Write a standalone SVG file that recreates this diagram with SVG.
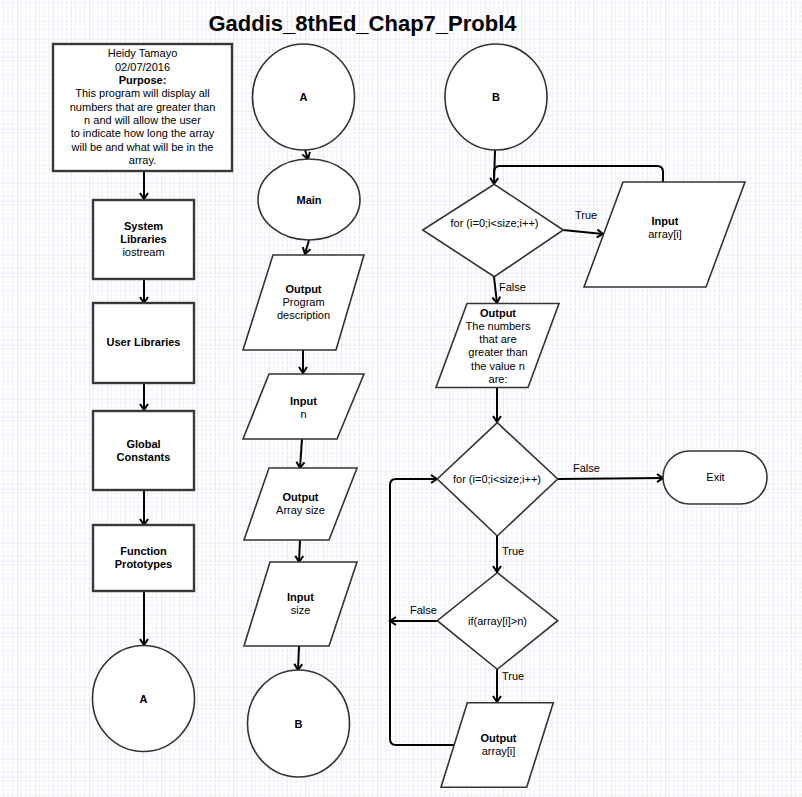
<svg xmlns="http://www.w3.org/2000/svg" width="802" height="797" viewBox="0 0 802 797">
<style>
text{font-family:"Liberation Sans",Arial,sans-serif;font-size:11px;fill:#000;text-anchor:middle}
.b{font-weight:bold}
.l{text-anchor:start}
.title{font-size:22px;font-weight:bold}
.box{fill:#fff;stroke:#383838;stroke-width:2.4}
.shp{fill:#fff;stroke:#333;stroke-width:1.6}
.c{fill:none;stroke:#000;stroke-width:2}
</style>
<defs>
<pattern id="grid" patternUnits="userSpaceOnUse" x="-1" y="2.7" width="18" height="18">
<path d="M4.5,0V18M9,0V18M13.5,0V18M0,4.5H18M0,9H18M0,13.5H18" stroke="#f3f2fb" stroke-width="1" fill="none"/>
<path d="M0,0V18M0,0H18" stroke="#dfdcf2" stroke-width="1.2" fill="none"/>
</pattern>
<marker id="arr" markerUnits="userSpaceOnUse" markerWidth="12" markerHeight="12" refX="7" refY="6" orient="auto" viewBox="0 0 12 12" overflow="visible">
<path d="M1,2 L7,6 L1,10" fill="none" stroke="#000" stroke-width="2"/>
</marker>
</defs>
<rect x="0" y="0" width="802" height="797" fill="#fff"/>
<rect x="0" y="0" width="802" height="797" fill="url(#grid)"/>
<text class="title" x="362.5" y="31">Gaddis_8thEd_Chap7_Probl4</text>

<g id="connectors">
<path class="c" d="M144,171V199" marker-end="url(#arr)"/>
<path class="c" d="M144,279V303" marker-end="url(#arr)"/>
<path class="c" d="M144,383V410" marker-end="url(#arr)"/>
<path class="c" d="M144,490V525" marker-end="url(#arr)"/>
<path class="c" d="M144,591V645" marker-end="url(#arr)"/>
<path class="c" d="M305,150L308,159" marker-end="url(#arr)"/>
<path class="c" d="M309,240L305,254" marker-end="url(#arr)"/>
<path class="c" d="M303,350V373" marker-end="url(#arr)"/>
<path class="c" d="M302,439L300,468" marker-end="url(#arr)"/>
<path class="c" d="M300,540L299,562" marker-end="url(#arr)"/>
<path class="c" d="M299,646L298,670" marker-end="url(#arr)"/>
<path class="c" d="M495,150L494,184" marker-end="url(#arr)"/>
<path class="c" d="M663,182V172Q663,166 657,166H500Q494,166 494,172V178"/>
<path class="c" d="M563,230L603,234" marker-end="url(#arr)"/>
<path class="c" d="M494,277L497,303" marker-end="url(#arr)"/>
<path class="c" d="M497,387V422" marker-end="url(#arr)"/>
<path class="c" d="M558,479L663,478" marker-end="url(#arr)"/>
<path class="c" d="M497,536V572" marker-end="url(#arr)"/>
<path class="c" d="M437,621H390" marker-end="url(#arr)"/>
<path class="c" d="M497,669V702" marker-end="url(#arr)"/>
<path class="c" d="M454,745H396Q390,745 390,739V485Q390,479 396,479H437" marker-end="url(#arr)"/>
<text class="l" x="575" y="219">True</text>
<text class="l" x="499" y="291">False</text>
<text class="l" x="573" y="472">False</text>
<text class="l" x="502" y="555">True</text>
<text class="l" x="410" y="614">False</text>
<text class="l" x="502" y="680">True</text>
</g>

<g id="header">
<rect class="box" x="53" y="44" width="179" height="127"/>
<text x="142.5" y="57">Heidy Tamayo</text>
<text x="142.5" y="70.5">02/07/2016</text>
<text class="b" x="142.5" y="84">Purpose:</text>
<text x="142.5" y="97">This program will display all</text>
<text x="142.5" y="110.5">numbers that are greater than</text>
<text x="142.5" y="124">n and will allow the user</text>
<text x="142.5" y="137">to indicate how long the array</text>
<text x="142.5" y="150.5">will be and what will be in the</text>
<text x="142.5" y="164">array.</text>
</g>
<g id="syslib">
<rect class="box" x="93" y="200" width="101" height="79"/>
<text class="b" x="143.5" y="230">System</text>
<text class="b" x="143.5" y="243">Libraries</text>
<text x="143.5" y="256">iostream</text>
</g>
<g id="userlib">
<rect class="box" x="93" y="303" width="101" height="80"/>
<text class="b" x="143.5" y="346">User Libraries</text>
</g>
<g id="globals">
<rect class="box" x="93" y="411" width="101" height="79"/>
<text class="b" x="143.5" y="448">Global</text>
<text class="b" x="143.5" y="461">Constants</text>
</g>
<g id="protos">
<rect class="box" x="93" y="525" width="101" height="66"/>
<text class="b" x="143.5" y="555">Function</text>
<text class="b" x="143.5" y="568">Prototypes</text>
</g>
<g id="connA1">
<ellipse class="shp" cx="143.5" cy="698.5" rx="51" ry="53"/>
<text class="b" x="143.5" y="702.5">A</text>
</g>

<g id="connA2">
<ellipse class="shp" cx="303.5" cy="97" rx="51" ry="53"/>
<text class="b" x="303.5" y="101">A</text>
</g>
<g id="main">
<ellipse class="shp" cx="309" cy="199.5" rx="51" ry="40.5"/>
<text class="b" x="309" y="203.5">Main</text>
</g>
<g id="outDesc">
<polygon class="shp" points="273,255 364,255 336,350 243,350"/>
<text class="b" x="303.5" y="293">Output</text>
<text x="303.5" y="306">Program</text>
<text x="303.5" y="319">description</text>
</g>
<g id="inN">
<polygon class="shp" points="269,374 364,374 337,439 243,439"/>
<text class="b" x="303.5" y="404.5">Input</text>
<text x="303.5" y="417.5">n</text>
</g>
<g id="outSize">
<polygon class="shp" points="269,468 357,468 329,540 244,540"/>
<text class="b" x="300.5" y="501">Output</text>
<text x="300.5" y="514">Array size</text>
</g>
<g id="inSize">
<polygon class="shp" points="270,562 357,562 329,646 244,646"/>
<text class="b" x="300.5" y="601">Input</text>
<text x="300.5" y="614">size</text>
</g>
<g id="connB1">
<ellipse class="shp" cx="298.5" cy="723.5" rx="51" ry="53.5"/>
<text class="b" x="298.5" y="727.5">B</text>
</g>

<g id="connB2">
<ellipse class="shp" cx="496" cy="97" rx="51" ry="53"/>
<text class="b" x="496" y="101">B</text>
</g>
<g id="for1">
<polygon class="shp" points="494.3,184.3 563.3,230 494.3,276.7 422.7,230"/>
<text x="494.5" y="227">for (i=0;i&lt;size;i++)</text>
</g>
<g id="inArr">
<polygon class="shp" points="623,182 745,182 706,287 584,287"/>
<text class="b" x="665" y="225">Input</text>
<text x="665" y="238">array[i]</text>
</g>
<g id="outMsg">
<polygon class="shp" points="467,303.5 559,303.5 528,387.5 436,387.5"/>
<text class="b" x="498" y="316.5">Output</text>
<text x="498" y="329.5">The numbers</text>
<text x="498" y="342.5">that are</text>
<text x="498" y="356">greater than</text>
<text x="498" y="369.5">the value n</text>
<text x="498" y="383">are:</text>
</g>
<g id="for2">
<polygon class="shp" points="497.3,422.7 557.7,479 497.3,536 437.3,479"/>
<text x="497" y="482.5">for (i=0;i&lt;size;i++)</text>
</g>
<g id="exit">
<rect class="shp" x="663" y="451" width="104" height="53" rx="26.5" ry="26.5"/>
<text x="715.5" y="481">Exit</text>
</g>
<g id="ifGt">
<polygon class="shp" points="497.3,572.7 557.7,620.7 497.3,669.3 437.3,620.7"/>
<text x="497.5" y="624.5">if(array[i]&gt;n)</text>
</g>
<g id="outArr">
<polygon class="shp" points="467.3,702.7 553.3,702.7 526.7,787.3 441,787.3"/>
<text class="b" x="498.5" y="742">Output</text>
<text x="498.5" y="755">array[i]</text>
</g>
</svg>
